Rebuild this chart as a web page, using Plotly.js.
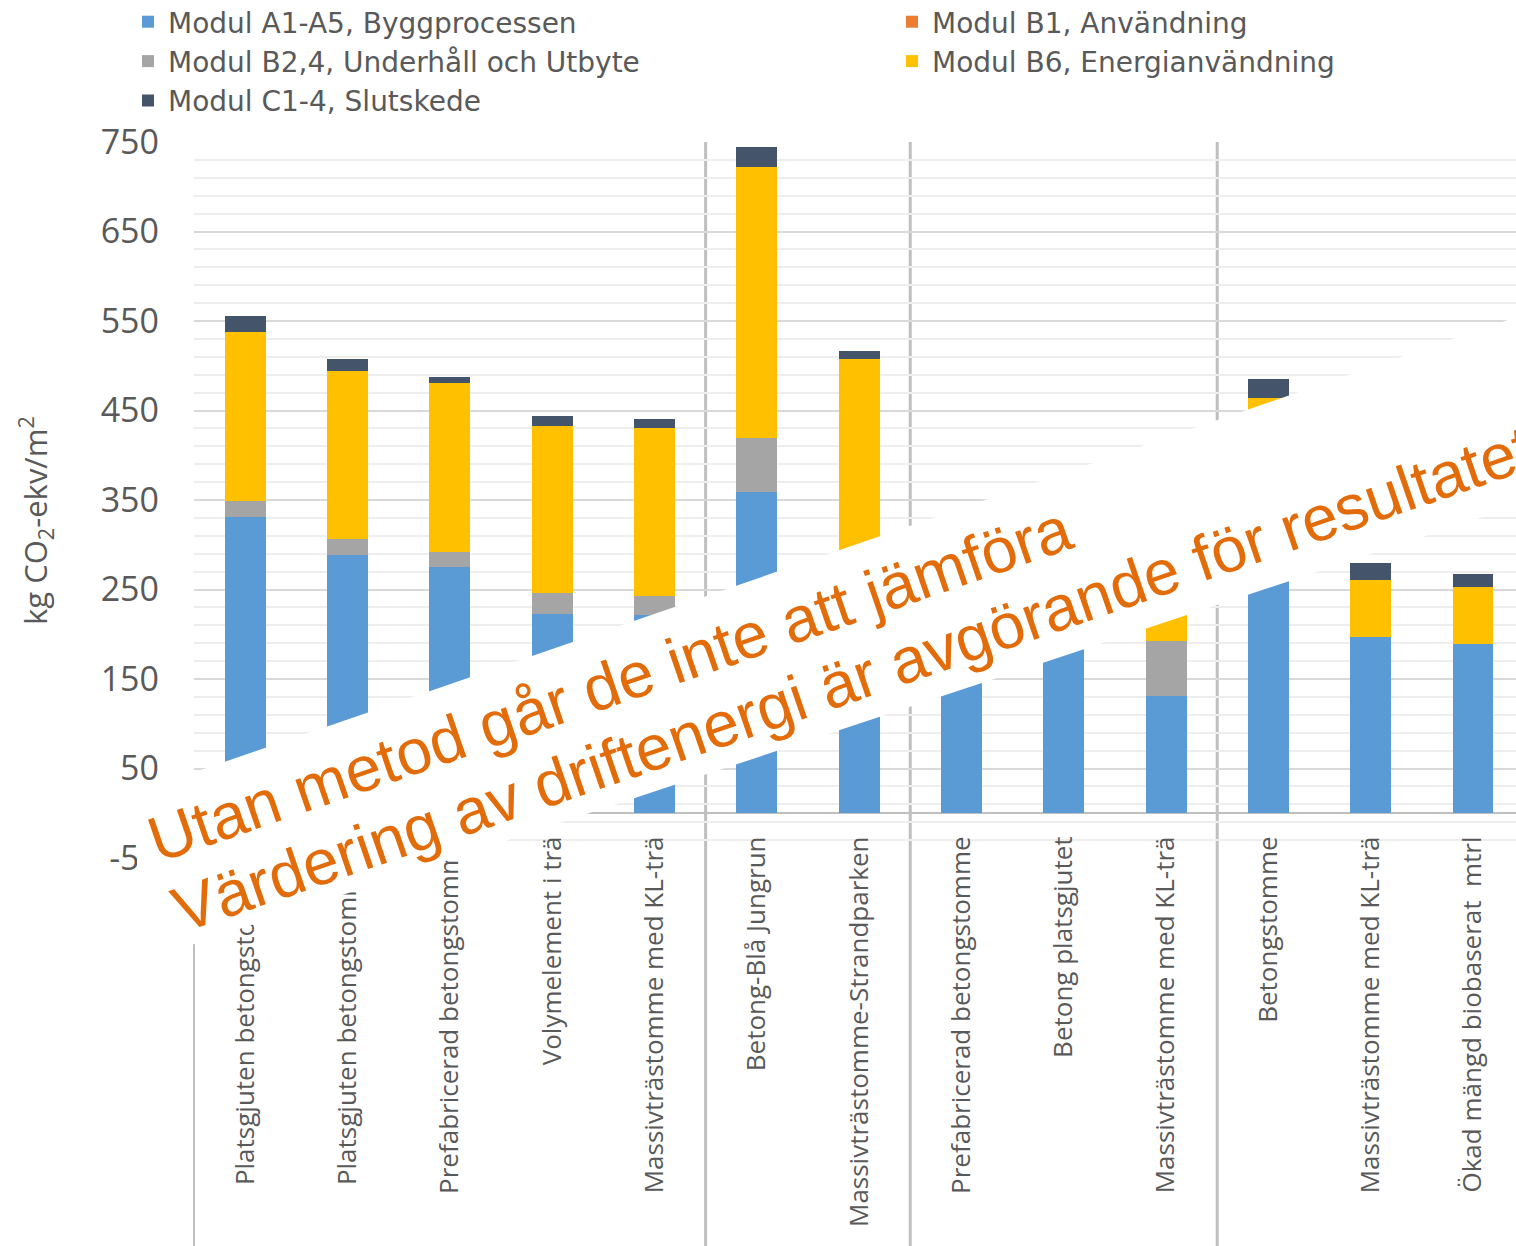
<!DOCTYPE html>
<html>
<head>
<meta charset="utf-8">
<script src="https://cdn.plot.ly/plotly-3.0.1.min.js"></script>
<style>html,body{margin:0;padding:0;background:#fff;overflow:hidden}</style>
</head>
<body>
<div id="chart" style="width:1516px;height:1246px"></div>
<script>
// ---- data ----
const categories = [
  "Platsgjuten betongstomme 1",
  "Platsgjuten betongstomme 2",
  "Prefabricerad betongstomme",
  "Volymelement i trä",
  "Massivträstomme med KL-trä",
  "Betong-Blå Jungrun",
  "Massivträstomme-Strandparken",
  "Prefabricerad betongstomme",
  "Betong platsgjutet",
  "Massivträstomme med KL-trä",
  "Betongstomme",
  "Massivträstomme med KL-trä",
  "Ökad mängd biobaserat  mtrl"
];
const groupSizes = [5, 2, 3, 3];
const seriesNames = [
  "Modul A1-A5, Byggprocessen",
  "Modul B1, Användning",
  "Modul B2,4, Underhåll och Utbyte",
  "Modul B6, Energianvändning",
  "Modul C1-4, Slutskede"
];
const moduleA1A5 = [331, 289, 275, 223, 222, 359, 185, 215, 250, 131, 395, 197, 189];
const moduleB1   = [0, 0, 0, 0, 0, 0, 0, 0, 0, 0, 0, 0, 0];
const moduleB24  = [18, 17, 17, 23, 21, 60, 20, 12, 12, 61, 5, 0, 0];
const moduleB6   = [189, 188, 189, 187, 188, 303, 303, 70, 70, 70, 64, 64, 64];
const moduleC14  = [18, 14, 6, 11, 9, 22, 9, 14, 16, 16, 21, 19, 14];
const yTicks = [-50, 50, 150, 250, 350, 450, 550, 650, 750];
const yTickLabels = ["-50", "50", "150", "250", "350", "450", "550", "650", "750"];
const yTitle = "kg CO<sub>2</sub>-ekv/m<sup>2</sup>";
const bannerLines = [
  "Utan metod går de inte att jämföra",
  "Värdering av driftenergi är avgörande för resultatet"
];

// ---- style ----
const colors = ["#5B9BD5", "#ED7D31", "#A5A5A5", "#FFC000", "#44546A"];
const legendOf = ["legend", "legend2", "legend", "legend2", "legend"];
const seriesValues = [moduleA1A5, moduleB1, moduleB24, moduleB6, moduleC14];
const xIdx = categories.map((_, i) => i);

const W = 1516, H = 1246, L = 194, T = 142, B = 388;
const PW = W - L, PH = H - T - B;
const yMin = yTicks[0], yMax = yTicks[yTicks.length - 1];
const toPaper = (px, py) => [(px - L) / PW, (T + PH - py) / PH];
const txt = "#595959";

const traces = seriesNames.map((name, k) => ({
  type: "bar",
  name: name,
  x: xIdx,
  y: seriesValues[k],
  marker: {color: colors[k]},
  legend: legendOf[k],
  hoverinfo: "name+y"
}));

// group separators
const shapes = [];
let acc = 0;
groupSizes.slice(0, -1).forEach(s => {
  acc += s;
  shapes.push({type: "line", xref: "x", yref: "paper", x0: acc - 0.5, x1: acc - 0.5,
    y0: 1, y1: toPaper(0, 1260)[1], line: {color: "#bfbfbf", width: 3}, layer: "below"});
});
const zeroPaper = (0 - yMin) / (yMax - yMin);
shapes.push({type: "line", xref: "paper", yref: "paper", x0: 0, x1: 0,
  y0: zeroPaper, y1: toPaper(0, 1260)[1], line: {color: "#bfbfbf", width: 2}, layer: "below"});

// white banner
const ban = [[137, 792], [1540, 309], [1540, 498], [137, 963]].map(p => toPaper(p[0], p[1]));
shapes.push({type: "path", xref: "paper", yref: "paper",
  path: "M" + ban.map(p => p[0] + "," + p[1]).join(" L") + " Z",
  fillcolor: "#ffffff", line: {width: 0}, layer: "above"});

// banner text: one annotation per line, placed from its baseline start
const fs = 64, angDeg = 19, ang = angDeg * Math.PI / 180;
const u = [Math.cos(ang), -Math.sin(ang)], up = [-Math.sin(ang), -Math.cos(ang)];
const lineOrigins = [[158, 863], [182, 933]];
const lineEm = [15.174, 22.4];
const lift = 0.3465 * fs;
const annotations = bannerLines.map((t, i) => {
  const o = lineOrigins[i], hw = lineEm[i] * fs / 2;
  const c = toPaper(o[0] + hw * u[0] + lift * up[0], o[1] + hw * u[1] + lift * up[1]);
  return {xref: "paper", yref: "paper", x: c[0], y: c[1], xanchor: "center", yanchor: "middle",
    text: t, showarrow: false, textangle: -angDeg,
    font: {family: "Liberation Sans, Arial, sans-serif", size: fs, color: "#E36C0A"}};
});
// y-axis title
const yt = toPaper(35, 521);
annotations.push({xref: "paper", yref: "paper", x: yt[0], y: yt[1], xanchor: "center", yanchor: "middle",
  text: yTitle, showarrow: false, textangle: -90,
  font: {family: "Open Sans", size: 31, color: txt}});

const layout = {
  width: W, height: H,
  margin: {l: L, r: 0, t: T, b: B, autoexpand: false},
  paper_bgcolor: "#ffffff", plot_bgcolor: "#ffffff",
  barmode: "stack", bargap: 0.6,
  font: {family: "Open Sans, sans-serif", color: txt},
  showlegend: true,
  legend: {orientation: "v", traceorder: "normal", x: toPaper(128, 0)[0], y: toPaper(0, -3)[1],
    xanchor: "left", yanchor: "top", font: {family: "DejaVu Sans", size: 28, color: txt},
    bgcolor: "rgba(0,0,0,0)"},
  legend2: {orientation: "v", traceorder: "normal", x: toPaper(892, 0)[0], y: toPaper(0, -3)[1],
    xanchor: "left", yanchor: "top", font: {family: "DejaVu Sans", size: 28, color: txt},
    bgcolor: "rgba(0,0,0,0)"},
  xaxis: {
    range: [-0.5, 12.42], tickmode: "array", tickvals: xIdx, ticktext: categories,
    tickangle: -90, ticks: "", showgrid: false, zeroline: false, showline: false,
    anchor: "free", position: zeroPaper, ticklabelstandoff: 17, automargin: false,
    tickfont: {family: "Open Sans", size: 26, color: txt}, fixedrange: true
  },
  yaxis: {
    range: [yMin, yMax], tickmode: "array", tickvals: yTicks, ticktext: yTickLabels, ticks: "",
    showgrid: true, gridcolor: "#d9d9d9", gridwidth: 2,
    minor: {tick0: yMin, dtick: 20, showgrid: true, gridcolor: "#eeeeee", gridwidth: 2},
    zeroline: true, zerolinecolor: "#bfbfbf", zerolinewidth: 2, showline: false,
    ticklabelstandoff: 34, automargin: false,
    tickfont: {family: "Open Sans", size: 34, color: txt},
    fixedrange: true
  },
  shapes: shapes,
  annotations: annotations
};

Plotly.newPlot("chart", traces, layout, {displayModeBar: false, staticPlot: true});
</script>
</body>
</html>
